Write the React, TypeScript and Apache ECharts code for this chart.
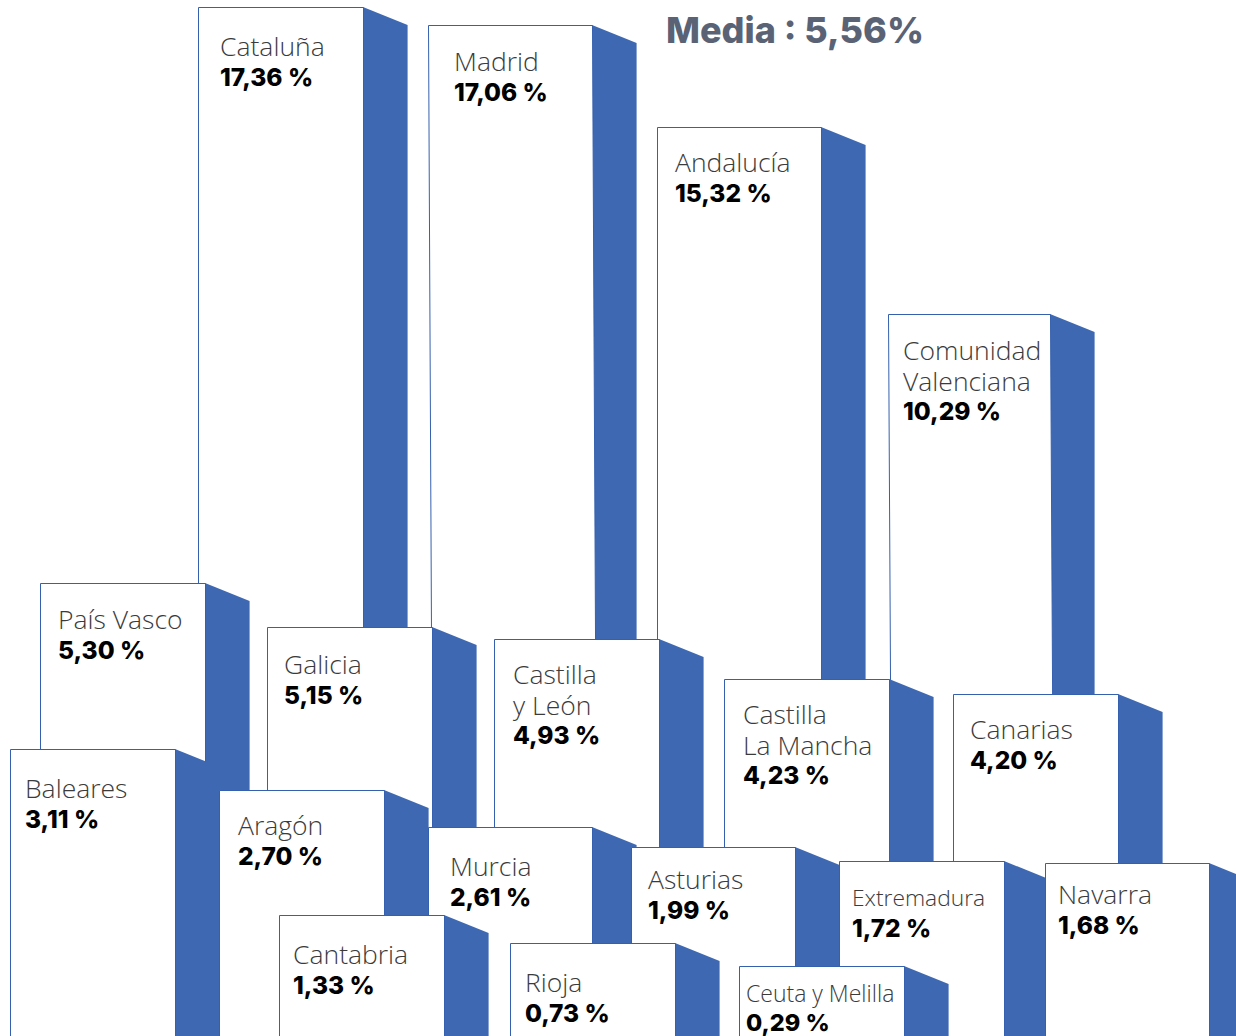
import React, { useEffect, useRef } from "react";
import * as echarts from "echarts";

// Back-to-front drawing order
const regionNames: string[][] = [
  ["Cataluña"], ["Madrid"], ["Andalucía"], ["Comunidad", "Valenciana"],
  ["País Vasco"], ["Galicia"], ["Castilla", "y León"], ["Castilla", "La Mancha"], ["Canarias"],
  ["Baleares"], ["Aragón"], ["Murcia"], ["Asturias"], ["Extremadura"], ["Navarra"],
  ["Cantabria"], ["Rioja"], ["Ceuta y Melilla"],
];
const sharePercent = [
  17.36, 17.06, 15.32, 10.29,
  5.3, 5.15, 4.93, 4.23, 4.2,
  3.11, 2.7, 2.61, 1.99, 1.72, 1.68,
  1.33, 0.73, 0.29,
];
// In units of the hidden axes
const barLeft = [198, 428, 657, 888, 40, 267, 494, 724, 953, 10, 219, 428, 631, 839, 1045, 279, 510, 739];
const barRight = [363, 592, 821, 1050, 205, 432, 659, 889, 1118, 175, 384, 592, 795, 1004, 1209, 444, 675, 904];
const barHeight = [1029, 1011, 909, 722, 453, 409, 397, 357, 342, 287, 246, 209, 189, 175, 173, 121, 93, 70];
const barLean = [0, 5, 0, 4, 0, 0, 0, 0, 0, 0, 0, 0, 0, 0, 0, 0, 0, 0];
const labelInsetX = [22, 26, 18, 15, 18, 17, 19, 19, 17, 15, 19, 22, 17, 13, 13, 14, 15, 7];
const labelInsetY = [39, 36, 35, 36, 36, 37, 35, 35, 35, 39, 35, 39, 32, 36, 31, 39, 39, 27];
const nameFontSize = [26.5, 26.5, 26.5, 26.5, 26.5, 26.5, 26.5, 26.5, 26.5, 26.5, 26.5, 26.5, 26.5, 22.8, 26.5, 26.5, 26.5, 23];
const shareFontSize = [24.5, 24.5, 24.5, 24.5, 24.5, 24.5, 24.5, 24.5, 24.5, 24.5, 24.5, 24.5, 24.5, 24.5, 24.5, 24.5, 24.5, 23.5];
const shareLift = [0, 0, 0, 0, 0, 0, 0, 0, 0, 0, 0, 0, 0, 0, 0, 0, 0, 1.5];

const averageTitle = "Media : 5,56%";
const SIDE_DEPTH = 44.6;
const SIDE_DROP = 18;
const LINE_GAP = 30.5;
const NAME_FONT = "'Open Sans', 'Noto Sans', sans-serif";
const FONT = "Inter, 'Noto Sans', sans-serif";

const formatShare = (v: number) => `${v.toFixed(2).replace(".", ",")} %`;

const renderItem = (params: any, api: any) => {
  const i = params.dataIndex;
  const left = api.value(0);
  const right = api.value(1);
  const height = api.value(2);
  const lean = api.value(3);
  const [x0, yTop] = api.coord([left, height]);
  const [x1, yBase] = api.coord([right, 0]);

  const side = {
    type: "polygon",
    shape: {
      points: [
        [x1, yTop],
        [x1 + SIDE_DEPTH, yTop + SIDE_DROP],
        [x1 + SIDE_DEPTH, yBase + 2],
        [x1, yBase + 2],
      ],
    },
    style: { fill: "#3E69B2" },
  };
  const face = {
    type: "polygon",
    shape: {
      points: [
        [x0 + 0.5, yTop + 0.5],
        [x1 + 0.5, yTop + 0.5],
        [x1 + 0.5 + lean, yBase + 2],
        [x0 + 0.5 + lean, yBase + 2],
      ],
    },
    style: { fill: "#ffffff", stroke: "#3560AE", lineWidth: 1 },
  };
  const tx = x0 + labelInsetX[i];
  const ty = yTop + labelInsetY[i];
  const names = regionNames[i].map((line, k) => ({
    type: "text",
    x: tx,
    y: ty + k * LINE_GAP,
    style: {
      text: line,
      fontFamily: NAME_FONT,
      fontSize: nameFontSize[i],
      fontWeight: 300,
      lineHeight: 24,
      fill: "#3b3b3b",
      align: "left",
      verticalAlign: "middle",
    },
  }));
  const share = {
    type: "text",
    x: tx,
    y: ty + regionNames[i].length * LINE_GAP - shareLift[i],
    style: {
      text: formatShare(sharePercent[i]),
      fontFamily: FONT,
      fontSize: shareFontSize[i],
      fontWeight: 800,
      lineHeight: 22,
      fill: "#000000",
      align: "left",
      verticalAlign: "middle",
    },
  };
  return { type: "group", children: [side, face, ...names, share] };
};

export default function App() {
  const ref = useRef<HTMLDivElement>(null);
  useEffect(() => {
    const chart = echarts.init(ref.current!, undefined, { renderer: "svg" });
    chart.setOption({
      animation: false,
      backgroundColor: "#ffffff",
      title: {
        text: averageTitle,
        left: 666,
        top: 12,
        padding: 0,
        textStyle: { fontFamily: FONT, fontSize: 36, fontWeight: 800, color: "#5A6375" },
      },
      grid: { left: 0, right: 0, top: 0, bottom: 0 },
      xAxis: { type: "value", min: 0, max: 1236, show: false },
      yAxis: { type: "value", min: 0, max: 1036, show: false },
      series: [
        {
          type: "custom",
          clip: false,
          renderItem,
          data: barLeft.map((l, i) => [l, barRight[i], barHeight[i], barLean[i], sharePercent[i]]),
          encode: { x: [0, 1], y: 2 },
        },
      ],
    });
    return () => chart.dispose();
  }, []);
  return (
    <div
      ref={ref}
      style={{ position: "absolute", left: 0, top: 0, width: 1236, height: 1036, overflow: "hidden" }}
    />
  );
}
